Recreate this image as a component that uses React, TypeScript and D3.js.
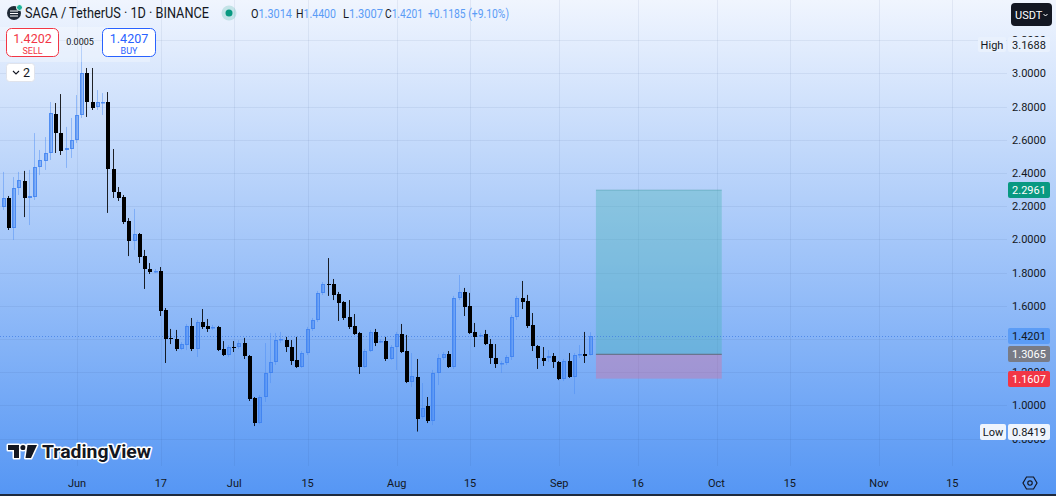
import React from 'react';
import * as d3 from 'd3';

const W = 1056;
const H = 496;
const PANE_RIGHT = 1007;
const PANE_BOTTOM = 466;
const FONT = 'Roboto, "Noto Sans", sans-serif';

const startDay = '2024-05-17';

const opens = [
  2.146, 2.195, 2.249, 2.068, 2.309, 2.351, 2.249, 2.255, 2.436, 2.472,
  2.520, 2.755, 2.640, 2.538, 2.544, 2.598, 2.749, 3.002, 2.827, 2.797,
  2.821, 2.827, 2.424, 2.285, 2.255, 2.110, 1.990, 2.032, 1.899, 1.821,
  1.803, 1.809, 1.574, 1.406, 1.399, 1.339, 1.363, 1.478, 1.339, 1.502,
  1.478, 1.466, 1.472, 1.339, 1.303, 1.351, 1.351, 1.375, 1.297, 1.044,
  0.893, 1.050, 1.195, 1.261, 1.393, 1.393, 1.351, 1.273, 1.231, 1.315,
  1.460, 1.514, 1.677, 1.731, 1.731, 1.671, 1.622, 1.532, 1.478, 1.436,
  1.231, 1.327, 1.442, 1.381, 1.387, 1.279, 1.351, 1.430, 1.327, 1.140,
  1.171, 0.930, 0.996, 0.906, 1.195, 1.285, 1.309, 1.231, 1.646, 1.683,
  1.598, 1.442, 1.418, 1.430, 1.369, 1.285, 1.249, 1.255, 1.291, 1.532,
  1.646, 1.628, 1.484, 1.357, 1.285, 1.285, 1.297, 1.261, 1.159, 1.267,
  1.171, 1.303, 1.309, 1.3014,
];
const highs = [
  2.237, 2.406, 2.261, 2.375, 2.406, 2.412, 2.418, 2.640, 2.538, 2.616,
  2.827, 2.821, 2.875, 2.677, 2.731, 2.869, 3.1688, 3.032, 3.032, 2.899,
  2.881, 2.887, 2.544, 2.315, 2.267, 2.128, 2.183, 2.038, 1.936, 1.857,
  1.821, 1.833, 1.586, 1.460, 1.454, 1.381, 1.490, 1.526, 1.514, 1.580,
  1.520, 1.484, 1.478, 1.387, 1.363, 1.387, 1.393, 1.406, 1.303, 1.050,
  1.062, 1.375, 1.436, 1.436, 1.442, 1.412, 1.393, 1.412, 1.327, 1.472,
  1.526, 1.689, 1.743, 1.887, 1.761, 1.683, 1.628, 1.634, 1.550, 1.442,
  1.339, 1.454, 1.460, 1.399, 1.412, 1.363, 1.442, 1.490, 1.424, 1.315,
  1.279, 1.134, 1.050, 1.213, 1.309, 1.321, 1.327, 1.659, 1.785, 1.707,
  1.677, 1.496, 1.436, 1.454, 1.399, 1.369, 1.267, 1.303, 1.544, 1.659,
  1.749, 1.665, 1.556, 1.363, 1.351, 1.333, 1.315, 1.267, 1.279, 1.315,
  1.315, 1.363, 1.442, 1.44,
];
const lows = [
  2.104, 2.177, 2.056, 1.996, 2.267, 2.134, 2.086, 2.237, 2.387, 2.418,
  2.478, 2.520, 2.508, 2.430, 2.490, 2.580, 2.731, 2.737, 2.779, 2.779,
  2.749, 2.159, 2.249, 2.231, 2.092, 1.899, 1.936, 1.857, 1.701, 1.791,
  1.797, 1.538, 1.255, 1.369, 1.327, 1.333, 1.333, 1.327, 1.291, 1.460,
  1.442, 1.454, 1.327, 1.297, 1.291, 1.321, 1.339, 1.279, 1.026, 0.875,
  0.887, 1.020, 1.134, 1.243, 1.375, 1.321, 1.243, 1.225, 1.225, 1.303,
  1.448, 1.502, 1.665, 1.659, 1.634, 1.508, 1.514, 1.460, 1.424, 1.189,
  1.225, 1.321, 1.357, 1.375, 1.267, 1.273, 1.213, 1.315, 1.134, 1.110,
  0.8419, 0.918, 0.893, 0.881, 1.122, 1.273, 1.225, 1.219, 1.634, 1.538,
  1.430, 1.351, 1.412, 1.363, 1.249, 1.225, 1.195, 1.243, 1.273, 1.514,
  1.580, 1.466, 1.327, 1.219, 1.237, 1.261, 1.225, 1.152, 1.146, 1.165,
  1.068, 1.285, 1.255, 1.3007,
];
const closes = [
  2.207, 2.249, 2.068, 2.309, 2.357, 2.249, 2.261, 2.436, 2.478, 2.520,
  2.761, 2.640, 2.532, 2.550, 2.598, 2.749, 3.002, 2.827, 2.791, 2.827,
  2.827, 2.424, 2.285, 2.249, 2.104, 1.990, 2.032, 1.893, 1.821, 1.803,
  1.809, 1.568, 1.399, 1.399, 1.339, 1.369, 1.478, 1.339, 1.502, 1.472,
  1.460, 1.472, 1.333, 1.303, 1.351, 1.345, 1.375, 1.297, 1.038, 0.893,
  1.050, 1.195, 1.261, 1.393, 1.399, 1.351, 1.267, 1.231, 1.315, 1.460,
  1.514, 1.677, 1.731, 1.725, 1.665, 1.616, 1.526, 1.472, 1.430, 1.231,
  1.327, 1.442, 1.375, 1.387, 1.279, 1.351, 1.430, 1.321, 1.140, 1.177,
  0.918, 0.985, 0.906, 1.195, 1.285, 1.309, 1.231, 1.646, 1.683, 1.592,
  1.436, 1.412, 1.424, 1.369, 1.285, 1.249, 1.255, 1.291, 1.532, 1.646,
  1.622, 1.478, 1.357, 1.285, 1.267, 1.297, 1.261, 1.159, 1.267, 1.171,
  1.303, 1.309, 1.297, 1.4201,
];

// price grid levels; tick labels fully hidden behind the last-price badge are not drawn
const priceTicks = [0.8, 1.0, 1.2, 1.4, 1.6, 1.8, 2.0, 2.2, 2.4, 2.6, 2.8, 3.0, 3.2];
const priceTickLabels = ['0.8000', '1.0000', '1.2000', '', '1.6000', '1.8000', '2.0000', '2.2000', '2.4000', '2.6000', '2.8000', '3.0000', '3.2000'];
const timeTickDates = [
  '2024-06-01', '2024-06-17', '2024-07-01', '2024-07-15', '2024-08-01', '2024-08-15',
  '2024-09-01', '2024-09-16', '2024-10-01', '2024-10-15', '2024-11-01', '2024-11-15',
];
const timeTickLabels = ['Jun', '17', 'Jul', '15', 'Aug', '15', 'Sep', '16', 'Oct', '15', 'Nov', '15'];

const lastPrice = 1.4201;
const entryPrice = 1.3065;
const targetPrice = 2.2961;
const stopPrice = 1.1607;
const highPrice = 3.1688;
const lowPrice = 0.8419;
const positionStart = '2024-09-08';
const positionEnd = '2024-10-02';

const headerValues = [
  { k: 'O', v: '1.3014', x: 251 },
  { k: 'H', v: '1.4400', x: 296 },
  { k: 'L', v: '1.3007', x: 343 },
  { k: 'C', v: '1.4201', x: 385 },
];

const parse = d3.utcParse('%Y-%m-%d');

export default function App() {
  const x = d3
    .scaleUtc()
    .domain([parse('2024-06-01')!, parse('2024-11-01')!])
    .range([77, 879]);
  const y = d3.scaleLinear().domain([0.8, 3.2]).range([438.5, 40.1]);

  const start = parse(startDay)!;
  const candles = opens.map((o, i) => ({
    date: d3.utcDay.offset(start, i),
    o,
    h: highs[i],
    l: lows[i],
    c: closes[i],
  }));

  const upFill = 'rgba(70,138,245,0.45)';
  const upStroke = 'rgba(58,126,240,0.8)';
  const upWick = 'rgba(70,138,245,0.45)';

  const badge = (val: number, label: string, fill: string, color: string, key: string) => {
    const cy = Math.round(y(val));
    return (
      <g key={key}>
        <rect x={1008} y={cy - 8} width={42} height={16} rx={2} fill={fill} />
        <text x={1029} y={cy + 4} textAnchor="middle" fontSize={11} fill={color} fontFamily={FONT}>
          {label}
        </text>
      </g>
    );
  };

  const px0 = x(parse(positionStart)!);
  const px1 = x(parse(positionEnd)!);

  return (
    <svg
      width={W}
      height={H}
      viewBox={`0 0 ${W} ${H}`}
      style={{ position: 'fixed', left: 0, top: 0, display: 'block' }}
      fontFamily={FONT}
    >
      <defs>
        <linearGradient id="bg" x1="0" y1="0" x2="0" y2="1">
          <stop offset="0" stopColor="#f0f5fe" />
          <stop offset="1" stopColor="#5596f4" />
        </linearGradient>
      </defs>
      <rect x={0} y={0} width={W} height={H} fill="url(#bg)" />

      {/* grid */}
      {priceTicks.map((p) => (
        <line
          key={'hg' + p}
          x1={0}
          x2={PANE_RIGHT}
          y1={Math.round(y(p)) + 0.5}
          y2={Math.round(y(p)) + 0.5}
          stroke="rgba(30,60,120,0.07)"
        />
      ))}
      {timeTickDates.map((d) => (
        <line
          key={'vg' + d}
          x1={Math.round(x(parse(d)!)) + 0.5}
          x2={Math.round(x(parse(d)!)) + 0.5}
          y1={0}
          y2={PANE_BOTTOM}
          stroke="rgba(30,60,120,0.07)"
        />
      ))}

      {/* position tool */}
      <rect x={px0} y={y(targetPrice)} width={px1 - px0} height={y(entryPrice) - y(targetPrice)} fill="rgba(70,178,182,0.38)" />
      <rect x={px0} y={y(entryPrice)} width={px1 - px0} height={y(stopPrice) - y(entryPrice)} fill="rgba(225,105,150,0.36)" />
      <line x1={px0} x2={px1} y1={y(targetPrice)} y2={y(targetPrice)} stroke="rgba(60,150,160,0.45)" />
      <line x1={px0} x2={px1} y1={y(entryPrice)} y2={y(entryPrice)} stroke="rgba(100,108,128,0.85)" strokeWidth={1.2} />

      {/* current price line */}
      <line
        x1={0}
        x2={PANE_RIGHT}
        y1={Math.round(y(lastPrice)) + 0.5}
        y2={Math.round(y(lastPrice)) + 0.5}
        stroke="rgba(60,120,225,0.7)"
        strokeDasharray="1 2"
      />

      {/* candles */}
      {candles.map((d, i) => {
        const cx = Math.round(x(d.date));
        const up = d.c >= d.o;
        const top = Math.round(y(Math.max(d.o, d.c)));
        const bot = Math.round(y(Math.min(d.o, d.c)));
        const bh = Math.max(1, bot - top);
        const wt = y(d.h);
        const wb = y(d.l);
        return (
          <g key={i}>
            <rect x={cx - 1} y={wt} width={1} height={wb - wt} fill={up ? upWick : 'rgba(0,0,0,0.85)'} />
            {up ? (
              <rect x={cx - 2 + 0.5} y={top + 0.5} width={3} height={Math.max(0.5, bh - 1)} fill={upFill} stroke={upStroke} strokeWidth={1} />
            ) : (
              <rect x={cx - 2} y={top} width={4} height={bh} fill="#000" />
            )}
          </g>
        );
      })}

      {/* price axis labels */}
      {priceTicks.map((p, i) =>
        priceTickLabels[i] ? (
          <text key={'pt' + p} x={1029} y={Math.round(y(p)) + 4} textAnchor="middle" fontSize={11} fill="#131722">
            {priceTickLabels[i]}
          </text>
        ) : null
      )}

      {/* High / Low labels */}
      <g>
        <rect x={978} y={Math.round(y(highPrice)) - 8} width={28} height={15} rx={2} fill="#e9f1fd" />
        <text x={992} y={Math.round(y(highPrice)) + 4} textAnchor="middle" fontSize={11} fill="#131722">High</text>
        <rect x={1008} y={Math.round(y(highPrice)) - 8} width={42} height={15} rx={2} fill="#e9f1fd" />
        <text x={1029} y={Math.round(y(highPrice)) + 4} textAnchor="middle" fontSize={11} fill="#131722">{highPrice.toFixed(4)}</text>
      </g>
      <g>
        <rect x={980} y={Math.round(y(lowPrice)) - 8} width={26} height={16} rx={2} fill="#eef4fd" />
        <text x={993} y={Math.round(y(lowPrice)) + 4} textAnchor="middle" fontSize={11} fill="#131722">Low</text>
        <rect x={1008} y={Math.round(y(lowPrice)) - 8} width={42} height={16} rx={2} fill="#eef4fd" />
        <text x={1029} y={Math.round(y(lowPrice)) + 4} textAnchor="middle" fontSize={11} fill="#131722">{lowPrice.toFixed(4)}</text>
      </g>

      {badge(targetPrice, targetPrice.toFixed(4), '#089981', '#ffffff', 'tg')}
      {badge(lastPrice, lastPrice.toFixed(4), '#5b9cf6', '#131722', 'lp')}
      {badge(entryPrice, entryPrice.toFixed(4), '#787b86', '#ffffff', 'en')}
      {badge(stopPrice, stopPrice.toFixed(4), '#f23645', '#ffffff', 'sl')}

      {/* USDT button */}
      <rect x={1011} y={3} width={41} height={23} rx={4} fill="#131722" />
      <text x={1015} y={19} fontSize={11} fill="#ffffff">USDT</text>
      <path d="M1043.5 14 l2 2 l2 -2" fill="none" stroke="#ffffff" strokeWidth={1} />

      {/* time axis labels */}
      {timeTickDates.map((d, i) => (
        <text key={'tt' + d} x={x(parse(d)!)} y={487} textAnchor="middle" fontSize={11} fill="#131722">
          {timeTickLabels[i]}
        </text>
      ))}

      {/* settings icon */}
      <g transform="translate(1030,483)" fill="none" stroke="#131722" strokeWidth={1.2}>
        <path d="M-3.5 -6 L3.5 -6 L7 0 L3.5 6 L-3.5 6 L-7 0 Z" />
        <circle r={2.2} />
      </g>

      {/* header */}
      <g>
        <circle cx={14} cy={13} r={7} fill="#1f2a36" />
        <path d="M10 11 h8 M10 13.5 h8 M10 16 h8" stroke="#ffffff" strokeWidth={1} />
        <circle cx={19.5} cy={7.5} r={3} fill="#1eb39c" stroke="#ffffff" strokeWidth={1} />
        <text x={25} y={18} fontSize={14} fill="#131722" textLength={184} lengthAdjust="spacingAndGlyphs">
          SAGA / TetherUS · 1D · BINANCE
        </text>
        <circle cx={229} cy={13} r={7.5} fill="rgba(8,153,129,0.18)" />
        <circle cx={229} cy={13} r={3.5} fill="#089981" />
        {headerValues.map((h) => (
          <text key={h.k} x={h.x} y={18} fontSize={12.5} textLength={h.k === 'O' ? 41 : h.k === 'C' ? 38 : 40} lengthAdjust="spacingAndGlyphs">
            <tspan fill="#131722">{h.k}</tspan>
            <tspan fill="#5b9cf6">{h.v}</tspan>
          </text>
        ))}
        <text x={428} y={18} fontSize={12.5} fill="#5b9cf6" textLength={81} lengthAdjust="spacingAndGlyphs">
          +0.1185 (+9.10%)
        </text>
      </g>

      {/* sell / buy panel */}
      <rect x={0} y={27} width={150} height={35} fill="rgba(255,255,255,0.28)" />
      <rect x={6.5} y={28.5} width={52} height={28} rx={5} fill="#ffffff" stroke="#f23645" />
      <text x={32.5} y={43} textAnchor="middle" fontSize={12.5} fill="#f23645">1.4202</text>
      <text x={32.5} y={54} textAnchor="middle" fontSize={9} fill="#f23645">SELL</text>
      <text x={80} y={45} textAnchor="middle" fontSize={9} fill="#131722">0.0005</text>
      <rect x={102.5} y={28.5} width={53} height={28} rx={5} fill="#ffffff" stroke="#2962ff" />
      <text x={129} y={43} textAnchor="middle" fontSize={12.5} fill="#2962ff">1.4207</text>
      <text x={129} y={54} textAnchor="middle" fontSize={9} fill="#2962ff">BUY</text>

      <rect x={6.5} y={63.5} width={28} height={18} rx={3} fill="#ffffff" stroke="#e0e3eb" />
      <path d="M13 71 l3 3 l3 -3" fill="none" stroke="#131722" strokeWidth={1.1} />
      <text x={23} y={77} fontSize={12.5} fill="#131722">2</text>

      {/* TradingView logo */}
      <g stroke="#ffffff" strokeWidth={3} strokeLinejoin="round" style={{ paintOrder: 'stroke' }}>
        <path d="M8 445 H19 V458 H14 V450 H8 Z" fill="#131722" />
        <circle cx={23} cy={447.5} r={2.6} fill="#131722" />
        <path d="M27.5 445 H37 L31 458 H25.5 Z" fill="#131722" />
        <text x={42} y={458} fontSize={18} fontWeight={700} fill="#131722" textLength={109} lengthAdjust="spacingAndGlyphs">
          TradingView
        </text>
      </g>

      <rect x={0} y={494} width={W} height={2} fill="#1e2a3e" />
    </svg>
  );
}
